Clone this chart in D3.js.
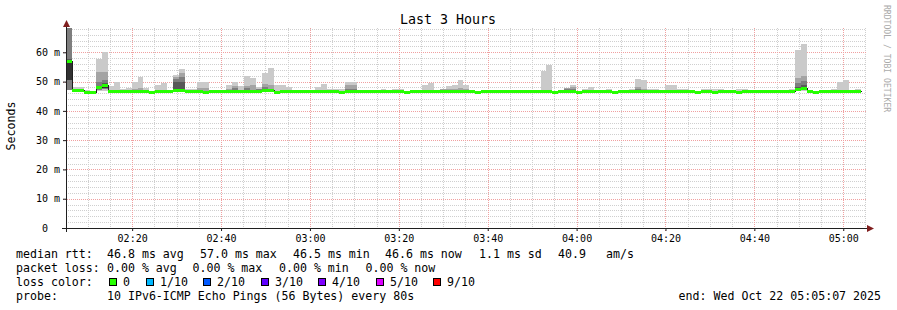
<!DOCTYPE html>
<meta charset="utf-8">
<head>
	<script src="https://d3js.org/d3.v7.min.js"></script>
	<style>
		body {
			margin: 0;
			background: #fff;
		}
		#chart svg text {
			font-family: "DejaVu Sans Mono", monospace;
			fill: #000;
		}
		.grid line {
			shape-rendering: crispEdges;
			stroke-dasharray: 1,1;
		}
		.smoke rect, .loss rect {
			shape-rendering: crispEdges;
		}
	</style>
</head>

<body>
	<div id="chart"></div>
</body>

<script type="text/javascript">

	// one step = 80 s, 10 pings each
	var startTime = new Date(Date.UTC(2025, 9, 22, 2, 5, 7));
	var endTime = new Date(Date.UTC(2025, 9, 22, 5, 5, 7));
	var firstStep = new Date(Date.UTC(2025, 9, 22, 2, 5, 13));
	var stepSeconds = 80;

	// median rtt per step (ms)
	var medianRtt = [
		57.0, 47.0, 47.0, 46.4, 46.4, 48.0, 48.7, 46.7, 46.7, 46.7,
		46.7, 46.7, 46.7, 46.7, 46.4, 46.7, 46.7, 46.7, 47.2, 47.2,
		46.7, 46.7, 46.7, 46.4, 46.7, 46.7, 46.7, 46.7, 46.7, 46.7,
		46.7, 46.7, 46.7, 47.2, 47.2, 46.4, 46.7, 46.7, 46.7, 46.7,
		46.7, 46.7, 46.7, 46.7, 46.7, 46.7, 46.4, 46.9, 46.9, 46.7,
		46.7, 46.7, 46.7, 46.7, 46.7, 46.7, 46.7, 46.4, 46.7, 46.7,
		46.7, 46.7, 46.7, 46.7, 46.7, 46.7, 46.7, 46.7, 46.7, 46.4,
		46.7, 46.7, 46.7, 46.7, 46.7, 46.7, 46.7, 46.7, 46.7, 46.7,
		46.7, 46.7, 46.4, 46.7, 46.7, 46.7, 46.4, 46.7, 46.7, 46.7,
		46.7, 46.7, 46.4, 46.7, 46.7, 46.7, 46.7, 46.7, 46.7, 46.7,
		46.7, 46.7, 46.7, 46.7, 46.7, 46.7, 46.4, 46.7, 46.7, 46.4,
		46.7, 46.7, 46.7, 46.4, 46.7, 46.7, 46.7, 46.7, 46.7, 46.7,
		46.7, 46.7, 46.7, 47.5, 47.9, 46.7, 46.4, 46.7, 46.7, 46.7,
		46.7, 46.7, 46.7, 46.7
	];

	// steps where the smoke shows, and the sorted pings for them (ms)
	var smokeStep = [
		0, 1, 2, 3, 5, 6, 7, 8, 9, 10,
		11, 12, 13, 15, 16, 18, 19, 20, 21, 22,
		23, 27, 28, 29, 30, 31, 32, 33, 34, 35,
		36, 37, 42, 43, 44, 45, 46, 47, 48, 53,
		55, 56, 58, 60, 61, 63, 64, 65, 66, 67,
		80, 81, 84, 85, 87, 88, 91, 95, 96, 97,
		98, 99, 101, 102, 103, 104, 107, 108, 109, 110,
		112, 113, 114, 122, 123, 124, 129, 130, 131, 133
	];
	var pingMin = [
		47.0, 46.8, 46.8, 46.2, 46.9, 46.9, 46.5, 46.5, 46.5, 46.5,
		46.5, 46.5, 46.5, 46.5, 46.5, 46.7, 46.7, 46.5, 46.5, 46.5,
		46.2, 46.5, 46.5, 46.5, 46.5, 46.5, 46.5, 46.7, 46.7, 46.2,
		46.5, 46.5, 46.5, 46.5, 46.5, 46.5, 46.2, 46.7, 46.7, 46.5,
		46.5, 46.5, 46.5, 46.5, 46.5, 46.5, 46.5, 46.5, 46.5, 46.5,
		46.5, 46.5, 46.5, 46.5, 46.5, 46.5, 46.5, 46.5, 46.5, 46.5,
		46.5, 46.5, 46.5, 46.5, 46.5, 46.5, 46.5, 46.5, 46.2, 46.5,
		46.5, 46.2, 46.5, 46.5, 46.8, 46.9, 46.5, 46.5, 46.5, 46.5
	];
	var pingLow = [
		47.2, 46.9, 46.9, 46.3, 47.2, 47.3, 46.6, 46.6, 46.6, 46.6,
		46.6, 46.6, 46.6, 46.6, 46.6, 46.9, 46.9, 46.6, 46.6, 46.6,
		46.3, 46.6, 46.6, 46.6, 46.6, 46.6, 46.6, 46.9, 46.9, 46.3,
		46.6, 46.6, 46.6, 46.6, 46.6, 46.6, 46.3, 46.8, 46.8, 46.6,
		46.6, 46.6, 46.6, 46.6, 46.6, 46.6, 46.6, 46.6, 46.6, 46.6,
		46.6, 46.6, 46.6, 46.6, 46.6, 46.6, 46.6, 46.6, 46.6, 46.6,
		46.6, 46.6, 46.6, 46.6, 46.6, 46.6, 46.6, 46.6, 46.3, 46.6,
		46.6, 46.3, 46.6, 46.6, 47.0, 47.1, 46.6, 46.6, 46.6, 46.6
	];
	var pingCore = [
		50.5, 46.9, 46.9, 46.3, 47.5, 47.8, 46.6, 46.6, 46.6, 46.6,
		46.6, 46.6, 46.6, 46.6, 46.6, 47.0, 47.0, 46.6, 46.6, 46.6,
		46.3, 46.6, 46.6, 46.6, 46.6, 46.6, 46.6, 47.0, 47.0, 46.3,
		46.6, 46.6, 46.6, 46.6, 46.6, 46.6, 46.3, 46.8, 46.8, 46.6,
		46.6, 46.6, 46.6, 46.6, 46.6, 46.6, 46.6, 46.6, 46.6, 46.6,
		46.6, 46.6, 46.6, 46.6, 46.6, 46.6, 46.6, 46.6, 46.6, 46.6,
		46.6, 46.6, 46.6, 46.6, 46.6, 46.6, 46.6, 46.6, 46.3, 46.6,
		46.6, 46.3, 46.6, 46.6, 47.2, 47.3, 46.6, 46.6, 46.6, 46.6
	];
	var ping6 = [
		57.6, 47.1, 47.1, 46.5, 48.5, 49.5, 46.8, 46.8, 46.8, 46.8,
		46.8, 46.8, 46.8, 46.8, 46.8, 50.0, 50.0, 46.8, 46.8, 46.8,
		46.5, 46.8, 46.8, 46.8, 46.8, 46.8, 46.8, 47.4, 47.4, 46.5,
		46.8, 46.8, 46.8, 46.8, 46.8, 46.8, 46.5, 47.0, 47.0, 46.8,
		46.8, 46.8, 46.8, 46.8, 46.8, 46.8, 46.8, 46.8, 46.8, 46.8,
		46.8, 46.8, 46.8, 46.8, 46.8, 46.8, 46.8, 46.8, 46.8, 46.8,
		46.8, 46.8, 46.8, 46.8, 46.8, 46.8, 46.8, 46.8, 46.5, 46.8,
		46.8, 46.5, 46.8, 46.8, 48.2, 48.8, 46.8, 46.8, 46.8, 46.8
	];
	var ping7 = [
		68.3, 47.2, 47.2, 46.6, 49.7, 50.5, 46.9, 46.9, 46.9, 46.9,
		46.9, 46.9, 46.9, 46.9, 46.9, 51.0, 51.6, 46.9, 46.9, 46.9,
		46.6, 46.9, 47.8, 46.9, 47.8, 46.9, 47.5, 48.0, 47.6, 46.6,
		46.9, 46.9, 46.9, 46.9, 46.9, 46.9, 46.6, 47.5, 47.6, 46.9,
		46.9, 46.9, 46.9, 46.9, 46.9, 46.9, 46.9, 46.9, 46.9, 46.9,
		46.9, 46.9, 47.5, 47.5, 46.9, 46.9, 46.9, 46.9, 47.5, 46.9,
		46.9, 46.9, 46.9, 46.9, 46.9, 46.9, 46.9, 46.9, 46.6, 46.9,
		46.9, 46.6, 46.9, 46.9, 49.5, 50.1, 46.9, 46.9, 46.9, 46.9
	];
	var ping8 = [
		68.3, 47.3, 47.3, 46.7, 53.3, 53.4, 47.0, 47.0, 47.0, 47.0,
		47.6, 47.8, 47.0, 47.0, 47.0, 51.7, 53.0, 47.0, 47.0, 47.8,
		47.8, 47.6, 48.6, 47.0, 48.4, 48.7, 47.0, 49.3, 49.0, 46.7,
		47.0, 47.0, 47.0, 47.0, 47.0, 47.0, 46.7, 48.7, 48.7, 47.0,
		47.0, 47.0, 47.0, 47.0, 47.0, 47.3, 47.3, 47.6, 47.8, 47.4,
		47.0, 47.2, 47.8, 48.0, 47.0, 47.0, 47.0, 47.0, 48.2, 47.5,
		47.0, 47.0, 47.0, 47.0, 47.0, 47.0, 47.0, 47.0, 46.7, 47.0,
		47.0, 46.7, 47.0, 47.0, 51.2, 52.0, 47.0, 47.0, 47.0, 47.0
	];
	var pingMax = [
		68.3, 48.3, 48.0, 47.0, 57.8, 60.0, 48.5, 49.9, 47.4, 47.7,
		49.9, 51.7, 47.7, 48.7, 49.5, 52.3, 54.3, 47.3, 47.4, 49.9,
		49.9, 48.9, 49.9, 48.5, 51.9, 51.3, 48.2, 53.0, 54.6, 48.9,
		49.0, 48.3, 48.2, 49.3, 47.5, 47.3, 47.3, 49.8, 49.9, 47.4,
		47.5, 47.5, 47.1, 48.9, 49.6, 47.6, 48.6, 48.7, 50.6, 48.7,
		53.5, 55.7, 47.9, 48.9, 47.6, 48.2, 47.3, 47.6, 51.0, 50.6,
		47.6, 47.6, 48.9, 48.9, 47.6, 47.6, 47.3, 47.3, 47.4, 47.4,
		47.0, 47.6, 47.6, 47.3, 60.8, 62.9, 47.6, 49.7, 50.4, 47.6
	];

	var yTickValues = [0, 10, 20, 30, 40, 50, 60];

	var rttLegend = ["46.8 ms avg", "57.0 ms max", "46.5 ms min", "46.6 ms now", "1.1 ms sd", "40.9", "am/s"];
	var lossLegend = ["0.00 % avg", "0.00 % max", "0.00 % min", "0.00 % now"];
	var lossLabels = ["0", "1/10", "2/10", "3/10", "4/10", "5/10", "9/10"];
	var lossColors = ["#26ff00", "#00b8ff", "#0059ff", "#5e00ff", "#7e00ff", "#dd00ff", "#ff0000"];

	var width = 897, height = 310;

	var svg = d3.select("#chart").append("svg")
		.attr("width", width)
		.attr("height", height);

	svg.append("rect").attr("width", width).attr("height", height).attr("fill", "#fff");

	var x = d3.scaleUtc()
		.domain([startTime, endTime])
		.range([66, 866]);

	var y = d3.scaleLinear()
		.domain([0, 68.3])
		.range([228, 28]);

	function stepTime(i) {
		return new Date(firstStep.getTime() + i * stepSeconds * 1000);
	}

	// grid
	var grid = svg.append("g").attr("class", "grid");

	grid.selectAll(".hminor")
		.data(y.ticks(34).filter(function(d) { return d > 0 && d % 10 !== 0; }))
		.enter().append("line")
		.attr("x1", 66).attr("x2", 866)
		.attr("y1", function(d) { return Math.round(y(d)) + 0.5; })
		.attr("y2", function(d) { return Math.round(y(d)) + 0.5; })
		.attr("stroke", "#cfcfcf");

	grid.selectAll(".vminor")
		.data(x.ticks(d3.utcMinute.every(5)).filter(function(d) { return d.getUTCMinutes() % 20 !== 0; }))
		.enter().append("line")
		.attr("x1", function(d) { return Math.round(x(d)) + 0.5; })
		.attr("x2", function(d) { return Math.round(x(d)) + 0.5; })
		.attr("y1", 28).attr("y2", 228)
		.attr("stroke", "#cfcfcf");

	grid.selectAll(".hmajor")
		.data(yTickValues.filter(function(d) { return d > 0; }))
		.enter().append("line")
		.attr("x1", 63).attr("x2", 866)
		.attr("y1", function(d) { return Math.round(y(d)) + 0.5; })
		.attr("y2", function(d) { return Math.round(y(d)) + 0.5; })
		.attr("stroke", "#f0a0a0");

	grid.selectAll(".vmajor")
		.data(x.ticks(d3.utcMinute.every(20)))
		.enter().append("line")
		.attr("x1", function(d) { return Math.round(x(d)) + 0.5; })
		.attr("x2", function(d) { return Math.round(x(d)) + 0.5; })
		.attr("y1", 28).attr("y2", 231)
		.attr("stroke", "#f0a0a0");

	// smoke, lightest pair of pings first
	var bands = [
		{ lo: pingMin, hi: pingMax, color: "#cacaca" },
		{ lo: pingLow, hi: ping8, color: "#a4a4a4" },
		{ lo: pingLow, hi: ping7, color: "#7e7e7e" },
		{ lo: pingCore, hi: ping6, color: "#585858" },
		{ lo: pingCore, hi: smokeStep.map(function(s) { return medianRtt[s]; }), color: "#323232" }
	];

	var smoke = svg.append("g").attr("class", "smoke");
	bands.forEach(function(b) {
		smoke.append("g").selectAll("rect")
			.data(smokeStep)
			.enter().append("rect")
			.attr("x", function(s) { return Math.round(x(stepTime(s))); })
			.attr("width", function(s) { return Math.round(x(stepTime(s + 1))) - Math.round(x(stepTime(s))); })
			.attr("y", function(s, i) { return Math.round(y(b.hi[i])); })
			.attr("height", function(s, i) { return Math.max(0, Math.round(y(b.lo[i])) - Math.round(y(b.hi[i]))); })
			.attr("fill", b.color);
	});

	// median line
	var medPoints = medianRtt.map(function(d, i) { return [stepTime(i), d]; });
	medPoints.push([stepTime(medianRtt.length), medianRtt[medianRtt.length - 1]]);

	var line = d3.line()
		.curve(d3.curveStepAfter)
		.x(function(d) { return Math.round(x(d[0])) + 0.5; })
		.y(function(d) { return Math.round(y(d[1])) + 0.5; });

	svg.append("path")
		.datum(medPoints)
		.attr("d", line)
		.attr("fill", "none")
		.attr("stroke", "#202020")
		.attr("stroke-width", 1)
		.attr("shape-rendering", "crispEdges");

	// loss coloured band round the median
	svg.append("g").attr("class", "loss")
		.selectAll("rect")
		.data(medianRtt)
		.enter().append("rect")
		.attr("x", function(d, i) { return Math.round(x(stepTime(i))); })
		.attr("width", function(d, i) { return Math.round(x(stepTime(i + 1))) - Math.round(x(stepTime(i))); })
		.attr("y", function(d) { return Math.round(y(d)) - 1; })
		.attr("height", 3)
		.attr("fill", lossColors[0]);

	// axes
	var xAxis = svg.append("g")
		.attr("transform", "translate(0,228)")
		.call(d3.axisBottom(x)
			.ticks(d3.utcMinute.every(20))
			.tickFormat(d3.utcFormat("%H:%M"))
			.tickSize(3)
			.tickPadding(4));
	xAxis.select(".domain").remove();
	xAxis.selectAll("line").attr("stroke", "#1f1f1f");
	xAxis.selectAll("text").attr("font-size", "10px");

	var yAxis = svg.append("g")
		.attr("transform", "translate(66,0)")
		.call(d3.axisLeft(y)
			.tickValues(yTickValues)
			.tickSize(3)
			.tickPadding(3)
			.tickFormat(function(d) { return d === 0 ? "0\u00a0\u00a0" : d + " m"; }));
	yAxis.select(".domain").remove();
	yAxis.selectAll("line").attr("stroke", "#1f1f1f");
	yAxis.selectAll("text").attr("font-size", "10px");

	svg.append("line")
		.attr("x1", 62).attr("x2", 868)
		.attr("y1", 228.5).attr("y2", 228.5)
		.attr("stroke", "#1f1f1f")
		.attr("shape-rendering", "crispEdges");
	svg.append("line")
		.attr("x1", 66.5).attr("x2", 66.5)
		.attr("y1", 24).attr("y2", 232)
		.attr("stroke", "#1f1f1f")
		.attr("shape-rendering", "crispEdges");

	svg.append("path")
		.attr("d", "M63,27L70,27L66.5,20Z")
		.attr("fill", "#801f1f");
	svg.append("path")
		.attr("d", "M867,225L867,232L874,228.5Z")
		.attr("fill", "#801f1f");

	// titles
	svg.append("text")
		.attr("x", 448).attr("y", 24)
		.attr("text-anchor", "middle")
		.attr("font-size", "13.3px")
		.text("Last 3 Hours");

	svg.append("text")
		.attr("transform", "translate(15,126)rotate(-90)")
		.attr("text-anchor", "middle")
		.attr("font-size", "11.6px")
		.text("Seconds");

	svg.append("text")
		.attr("transform", "translate(884,5)rotate(90)")
		.attr("text-anchor", "start")
		.attr("font-size", "8.1px")
		.style("fill", "#aaaaaa")
		.text("RRDTOOL / TOBI OETIKER");

	// legend
	var legend = svg.append("g").attr("font-size", "11.6px");

	legend.append("text").attr("x", 16).attr("y", 258).text("median rtt:");
	var rttX = [107, 200, 293, 385, 479, 558, 606];
	legend.selectAll(".rtt")
		.data(rttLegend)
		.enter().append("text")
		.attr("x", function(d, i) { return rttX[i]; })
		.attr("y", 258)
		.text(function(d) { return d; });

	legend.append("text").attr("x", 16).attr("y", 272).text("packet loss:");
	var lossX = [107, 192.5, 279, 365.5];
	legend.selectAll(".loss")
		.data(lossLegend)
		.enter().append("text")
		.attr("x", function(d, i) { return lossX[i]; })
		.attr("y", 272)
		.text(function(d) { return d; });

	legend.append("text").attr("x", 16).attr("y", 286).text("loss color:");
	var boxX = [109, 146, 203, 261, 318, 376, 433];
	var item = legend.selectAll(".lc")
		.data(lossLabels)
		.enter().append("g");
	item.append("rect")
		.attr("x", function(d, i) { return boxX[i] + 0.5; })
		.attr("y", 278.5)
		.attr("width", 7)
		.attr("height", 7)
		.attr("fill", function(d, i) { return lossColors[i]; })
		.attr("stroke", "#000")
		.attr("shape-rendering", "crispEdges");
	item.append("text")
		.attr("x", function(d, i) { return boxX[i] + 14; })
		.attr("y", 286)
		.text(function(d) { return d; });

	legend.append("text").attr("x", 16).attr("y", 300).text("probe:");
	legend.append("text").attr("x", 107).attr("y", 300).text("10 IPv6-ICMP Echo Pings (56 Bytes) every 80s");
	legend.append("text").attr("x", 881).attr("y", 300).attr("text-anchor", "end").text("end: Wed Oct 22 05:05:07 2025");

</script>
